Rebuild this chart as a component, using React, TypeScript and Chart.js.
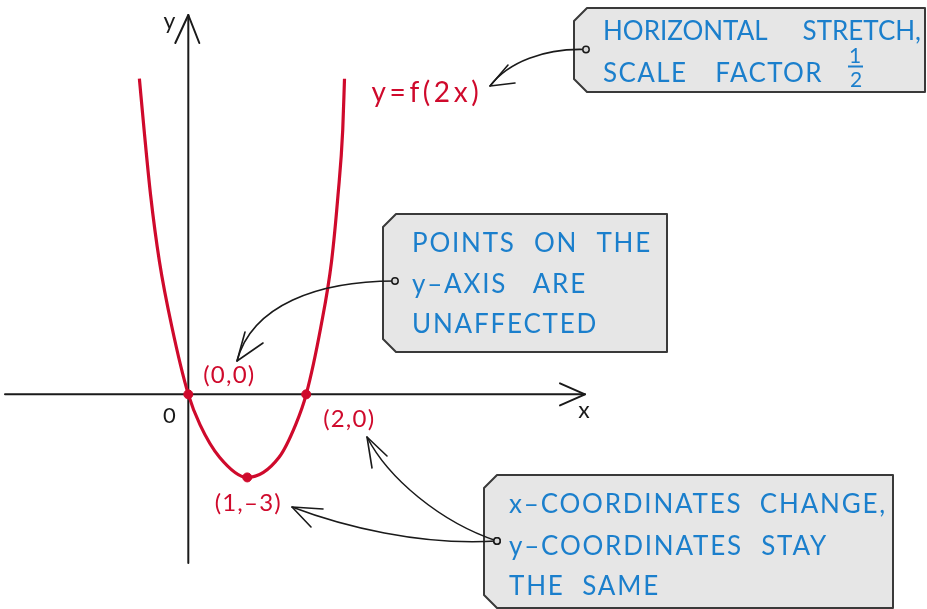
import React, { useEffect, useRef } from 'react';
import { Chart, registerables } from 'chart.js';

Chart.register(...registerables);

// ---- data ----
const curveX = [-0.83, -0.75, -0.64, -0.49, -0.28, 0, 0.2, 0.53, 1, 1.54, 1.82, 2, 2.25, 2.43, 2.54, 2.62, 2.65];
const curveY = [11.4, 9.55, 7.2, 4.8, 2.45, 0, -1.1, -2.27, -3, -2.27, -1.1, 0, 2.45, 4.8, 7.2, 9.55, 11.4];
const keyX = [0, 2, 1];
const keyY = [0, 0, -3];
const keyLabels = ['(0,0)', '(2,0)', '(1,–3)'];
const curveLabel = 'y=f(2x)';
const axisNames = ['x', 'y'];
const originLabel = '0';
const note1 = ['HORIZONTAL STRETCH,', 'SCALE FACTOR'];
const fractionParts = ['1', '2'];
const note2 = ['POINTS ON THE', 'y–AXIS ARE', 'UNAFFECTED'];
const note3 = ['x–COORDINATES CHANGE,', 'y–COORDINATES STAY', 'THE SAME'];

// ---- styles / layout ----
const RED = '#cf0a2c';
const BLUE = '#1b7fcc';
const INK = '#1a1a1a';
const BOX_FILL = '#e6e6e6';
const BOX_EDGE = '#3a3a3a';
const FONT = 'Lato, "Noto Sans", sans-serif';

type Pt = [number, number];

function setSpacing(ctx: CanvasRenderingContext2D, px: number) {
  (ctx as any).letterSpacing = `${px}px`;
}

function drawBox(ctx: CanvasRenderingContext2D, x1: number, y1: number, x2: number, y2: number, c: number) {
  ctx.save();
  ctx.beginPath();
  ctx.moveTo(x1 + c, y1);
  ctx.lineTo(x2, y1);
  ctx.lineTo(x2, y2);
  ctx.lineTo(x1 + c, y2);
  ctx.lineTo(x1, y2 - c);
  ctx.lineTo(x1, y1 + c);
  ctx.closePath();
  ctx.fillStyle = BOX_FILL;
  ctx.fill();
  ctx.lineWidth = 2;
  ctx.strokeStyle = BOX_EDGE;
  ctx.lineJoin = 'round';
  ctx.stroke();
  ctx.restore();
}

function drawSpreadLine(ctx: CanvasRenderingContext2D, text: string, x: number, y: number, width: number | null) {
  const words = text.split(' ');
  if (words.length === 1 || width == null) {
    ctx.fillText(text, x, y);
    return;
  }
  const widths = words.map((w) => ctx.measureText(w).width);
  const total = widths.reduce((a, b) => a + b, 0);
  const gap = Math.max(8, (width - total) / (words.length - 1));
  let cx = x;
  words.forEach((w, i) => {
    ctx.fillText(w, cx, y);
    cx += widths[i] + gap;
  });
}

function drawArrow(ctx: CanvasRenderingContext2D, p0: Pt, c1: Pt, c2: Pt, p3: Pt, b1: Pt, b2: Pt) {
  ctx.save();
  ctx.strokeStyle = INK;
  ctx.lineWidth = 1.6;
  ctx.lineCap = 'round';
  ctx.lineJoin = 'round';
  ctx.beginPath();
  ctx.moveTo(p0[0], p0[1]);
  ctx.bezierCurveTo(c1[0], c1[1], c2[0], c2[1], p3[0], p3[1]);
  ctx.stroke();
  ctx.beginPath();
  ctx.moveTo(b1[0], b1[1]);
  ctx.lineTo(p3[0], p3[1]);
  ctx.lineTo(b2[0], b2[1]);
  ctx.stroke();
  // connector ring
  ctx.beginPath();
  ctx.arc(p0[0], p0[1], 3.2, 0, Math.PI * 2);
  ctx.fillStyle = '#d8d8d8';
  ctx.fill();
  ctx.lineWidth = 1.5;
  ctx.stroke();
  ctx.restore();
}

const axesPlugin = {
  id: 'sketchAxes',
  beforeDatasetsDraw(chart: any) {
    const ctx: CanvasRenderingContext2D = chart.ctx;
    const xs = chart.scales.x;
    const ys = chart.scales.y;
    const ox = xs.getPixelForValue(0);
    const oy = ys.getPixelForValue(0);
    ctx.save();
    ctx.strokeStyle = INK;
    ctx.lineWidth = 2;
    ctx.lineCap = 'round';
    ctx.lineJoin = 'round';
    // x axis
    const xEnd = 585;
    ctx.beginPath();
    ctx.moveTo(5, oy);
    ctx.lineTo(xEnd, oy);
    ctx.stroke();
    ctx.beginPath();
    ctx.moveTo(xEnd - 25, oy - 11);
    ctx.lineTo(xEnd, oy);
    ctx.lineTo(xEnd - 25, oy + 11);
    ctx.stroke();
    // y axis
    const yTop = 15;
    ctx.beginPath();
    ctx.moveTo(ox, 563);
    ctx.lineTo(ox, yTop);
    ctx.stroke();
    ctx.beginPath();
    ctx.moveTo(ox - 13, yTop + 28);
    ctx.lineTo(ox, yTop);
    ctx.lineTo(ox + 11, yTop + 28);
    ctx.stroke();
    // axis names & origin
    ctx.fillStyle = INK;
    ctx.textAlign = 'center';
    ctx.textBaseline = 'middle';
    ctx.font = `23px ${FONT}`;
    ctx.fillText(axisNames[0], xEnd - 1, oy + 16);
    ctx.fillText(axisNames[1], ox - 19, oy - 373);
    ctx.font = `22px ${FONT}`;
    ctx.fillText(originLabel, ox - 19, oy + 22);
    ctx.restore();
  },
  afterDatasetsDraw(chart: any) {
    const ctx: CanvasRenderingContext2D = chart.ctx;
    const xs = chart.scales.x;
    const ys = chart.scales.y;
    const px = (x: number, y: number): Pt => [xs.getPixelForValue(x), ys.getPixelForValue(y)];

    // red point labels
    ctx.save();
    ctx.fillStyle = RED;
    ctx.textAlign = 'center';
    ctx.textBaseline = 'middle';
    ctx.font = `24px ${FONT}`;
    setSpacing(ctx, 1.2);
    const offsets: Pt[] = [[41, -19], [43, 25], [1, 26]];
    keyLabels.forEach((lab, i) => {
      const [x, y] = px(keyX[i], keyY[i]);
      ctx.fillText(lab, x + offsets[i][0], y + offsets[i][1]);
    });
    const last = curveX.length - 1;
    const [ex, ey] = px(curveX[last], curveY[last]);
    ctx.textAlign = 'left';
    ctx.font = `28px ${FONT}`;
    setSpacing(ctx, 3.6);
    ctx.fillText(curveLabel, ex + 27, ey + 14);
    ctx.restore();

    // boxes
    drawBox(ctx, 574, 8, 925, 92, 13);
    drawBox(ctx, 383, 214, 667, 352, 13);
    drawBox(ctx, 484, 475, 893, 608, 13);

    // arrows (drawn over the boxes so the lead from the ring shows)
    drawArrow(ctx, [586, 49.5], [545, 48], [508, 62], [490, 86], [508, 65], [515, 83]);
    drawArrow(ctx, [395, 281], [318, 281], [252, 305], [237, 361], [245, 332], [263, 343]);
    drawArrow(ctx, [497, 541], [440, 522], [388, 478], [367, 437], [372, 468], [387, 456]);
    drawArrow(ctx, [497, 541], [420, 546], [342, 526], [292, 507], [323, 509], [311, 527]);

    // box text
    ctx.save();
    ctx.fillStyle = BLUE;
    ctx.textAlign = 'left';
    ctx.textBaseline = 'alphabetic';
    ctx.font = `26px ${FONT}`;
    setSpacing(ctx, 0);
    drawSpreadLine(ctx, note1[0], 603, 39.5, 318);
    setSpacing(ctx, 1.4);
    drawSpreadLine(ctx, note1[1], 603, 81.5, 220);
    setSpacing(ctx, 1.8);
    drawSpreadLine(ctx, note2[0], 412, 252, 240);
    drawSpreadLine(ctx, note2[1], 412, 293, 175);
    drawSpreadLine(ctx, note2[2], 412, 333, null);
    drawSpreadLine(ctx, note3[0], 509, 513, 378);
    drawSpreadLine(ctx, note3[1], 509, 555, 319);
    drawSpreadLine(ctx, note3[2], 509, 595, 151);
    // fraction 1/2
    setSpacing(ctx, 0);
    ctx.textAlign = 'center';
    ctx.textBaseline = 'middle';
    ctx.font = `21px ${FONT}`;
    ctx.fillText(fractionParts[0], 855, 56);
    ctx.fillText(fractionParts[1], 856, 80);
    ctx.strokeStyle = BLUE;
    ctx.lineWidth = 2;
    ctx.beginPath();
    ctx.moveTo(848, 66.5);
    ctx.lineTo(863, 66.5);
    ctx.stroke();
    ctx.restore();
  },
};

export default function App() {
  const ref = useRef<HTMLCanvasElement | null>(null);
  useEffect(() => {
    if (!ref.current) return;
    const curve = curveX.map((x, i) => ({ x, y: curveY[i] }));
    const keys = keyX.map((x, i) => ({ x, y: keyY[i] }));
    const chart = new Chart(ref.current, {
      type: 'line',
      data: {
        datasets: [
          {
            label: 'key points',
            data: keys,
            showLine: false,
            pointRadius: 4.5,
            pointBackgroundColor: RED,
            pointBorderColor: RED,
            borderColor: RED,
          },
          {
            label: curveLabel,
            data: curve,
            borderColor: RED,
            borderWidth: 3.2,
            pointRadius: 0,
            cubicInterpolationMode: 'monotone',
            fill: false,
          },
        ],
      },
      options: {
        animation: false,
        responsive: true,
        maintainAspectRatio: false,
        devicePixelRatio: 1,
        layout: { padding: 0 },
        plugins: { legend: { display: false }, tooltip: { enabled: false } },
        scales: {
          x: { type: 'linear', display: false, min: -3.1014, max: 12.439 },
          y: { type: 'linear', display: false, min: -7.553, max: 14.043 },
        },
        events: [],
      },
      plugins: [axesPlugin],
    } as any);
    return () => chart.destroy();
  }, []);
  return (
    <div style={{ position: 'fixed', left: 0, top: 0, width: 927, height: 609, background: '#fff' }}>
      <canvas ref={ref} />
    </div>
  );
}
